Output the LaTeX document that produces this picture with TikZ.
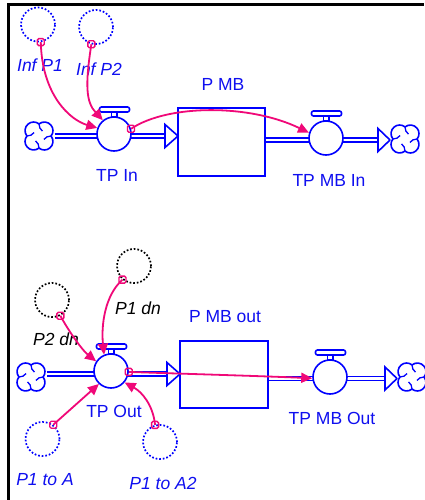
\documentclass[tikz,border=0pt]{standalone}
\usepackage{fontspec}
\setmainfont{Liberation Sans}
\usetikzlibrary{arrows.meta}
\definecolor{fblue}{RGB}{0,0,255}
\definecolor{tblue}{RGB}{15,15,240}
\definecolor{cpink}{RGB}{240,8,120}
\tikzset{
  flowline/.style={draw=fblue, line width=1.6pt},
  pipe/.style={draw=fblue, line width=1.4pt, double=white, double distance=2.4pt},
  pipehead/.style={draw=fblue, fill=white, line width=1.6pt, line join=miter},
  valve/.style={circle, draw=fblue, fill=white, line width=1.6pt, minimum size=34pt, inner sep=0pt},
  stock/.style={rectangle, draw=fblue, line width=1.6pt, inner sep=0pt},
  aux/.style={circle, draw=fblue, line width=1.7pt, dash pattern=on 1.7pt off 1.9pt, minimum size=34pt, inner sep=0pt},
  auxk/.style={aux, draw=black},
  lab/.style={text=tblue, inner sep=0pt, font=\fontsize{17.5}{20}\selectfont},
  ilab/.style={lab, font=\fontsize{17.5}{20}\selectfont\itshape},
  klab/.style={ilab, text=black},
  conn/.style={draw=cpink, line width=1.8pt, -{Triangle[length=11pt,width=10pt]}},
  pinksq/.style={rectangle, draw=cpink, line width=1.4pt, minimum size=7pt, inner sep=0pt, rounded corners=1.5pt},
  cloudnode/.style={circle, minimum size=31pt, inner sep=0pt},
  cloudsym/.pic={
    \fill[white] (0,0) circle (14.5);
    \foreach \t in {45,135,225,315}
      \draw[flowline] ([shift={(\t:7.6)}]\t-84:8.6) arc[start angle=\t-84, end angle=\t+84, radius=8.6];
    \foreach \t in {0,90,180,270}
      \draw[flowline, line width=1.3pt] (\t:12) to[bend right=25] (\t+35:6);
  }
}
\begin{document}
\begin{tikzpicture}[x=1pt,y=-1pt]
\useasboundingbox (0,0) rectangle (424,500);
\fill[white] (0,0) rectangle (424,500);
% frame
\draw[line width=3pt] (8.7,500) -- (8.7,5) -- (424,5);

% clouds (invisible anchors)
\node[cloudnode] (cl1) at (39,136) {};
\node[cloudnode] (cl2) at (405,139) {};
\node[cloudnode] (cl3) at (31,377) {};
\node[cloudnode] (cl4) at (412,377) {};

% stocks
\node[stock, minimum width=87pt, minimum height=68pt] (pmb) at (221.5,142) {};
\node[stock, minimum width=88pt, minimum height=67pt] (pmbout) at (224,374.5) {};

% pipe arrow bases
\coordinate (a1) at (165,136);
\coordinate (a2) at (378,140);
\coordinate (a3) at (167,374);
\coordinate (a4) at (385,378.5);

% pipes
\draw[pipe] (cl1.east |- a1) -- (a1);
\draw[pipehead] (a1) ++(0,-11.5) -- ++(13,11.5) -- ++(-13,11.5) -- cycle;
\draw[pipe] (pmb.east |- a2) -- (a2);
\draw[pipehead] (a2) ++(0,-11.5) -- ++(12,11.5) -- ++(-12,11.5) -- cycle;
\draw[pipe] (cl3.east |- a3) -- (a3);
\draw[pipehead] (a3) ++(0,-11.5) -- ++(13,11.5) -- ++(-13,11.5) -- cycle;
\draw[pipe] (pmbout.east |- a4) -- (a4);
\draw[pipehead] (a4) ++(0,-11.5) -- ++(12,11.5) -- ++(-12,11.5) -- cycle;

% cloud symbols
\pic at (cl1.center) {cloudsym};
\pic at (cl2.center) {cloudsym};
\pic at (cl3.center) {cloudsym};
\pic at (cl4.center) {cloudsym};

% valves
\node[valve] (tpin) at (114,134) {};
\node[valve] (tpmbin) at (326,138) {};
\node[valve] (tpout) at (111,371) {};
\node[valve] (tpmbout) at (330,377) {};
\foreach \v in {tpin,tpmbin,tpout,tpmbout} {
  \draw[flowline, fill=white, rounded corners=2pt] ([shift={(-14.5,-27)}]\v.center) rectangle ([shift={(15.5,-22)}]\v.center);
  \draw[flowline, fill=white] ([shift={(-2.5,-22)}]\v.center) rectangle ([shift={(3,-17.2)}]\v.center);
}

% auxiliaries
\node[aux] (infp1) at (38,24.5) {};
\node[aux] (infp2) at (96,27) {};
\node[auxk] (p2dn) at (52,300) {};
\node[auxk] (p1dn) at (134,266) {};
\node[aux] (p1a) at (42.5,439) {};
\node[aux] (p1a2) at (160,442) {};

% labels
\node[ilab] (linfp1) at (40,65) {Inf P1};
\node[ilab] (linfp2) at (99,69) {Inf P2};
\node[lab] (lpmb) at (223,84) {P MB};
\node[lab] (ltpin) at (117,175) {TP In};
\node[lab] (ltpmbin) at (329,180) {TP MB In};
\node[klab] (lp2dn) at (56,339) {P2 dn};
\node[klab] (lp1dn) at (138,308) {P1 dn};
\node[lab] (lpmbout) at (225,317) {P MB out};
\node[lab] (ltpout) at (114,411) {TP Out};
\node[lab] (ltpmbout) at (332,418) {TP MB Out};
\node[ilab] (lp1a) at (45,480) {P1 to A};
\node[ilab] (lp1a2) at (163,483) {P1 to A2};

% connector origins
\coordinate (s1) at (infp1.-81);
\coordinate (s2) at (infp2.-105);
\coordinate (s3) at (tpin.17);
\coordinate (s4) at (p2dn.-62);
\coordinate (s5) at (p1dn.-130);
\coordinate (s6) at (p1a.53);
\coordinate (s7) at (p1a2.106);
\coordinate (s8) at (tpout.-3);

% connectors
\draw[conn] (s1) .. controls (42,95) and (70,120) .. (tpin.160);
\draw[conn] (s2) .. controls (85,85) and (86,102) .. (tpin.129);
\draw[conn] (s3) .. controls (168,104) and (250,104) .. (tpmbin.163);
\draw[conn] (s4) .. controls (68,330) and (82,350) .. (tpout.147);
\draw[conn] (s5) .. controls (105,295) and (101,325) .. (tpout.113);
\draw[conn] (s6) -- (tpout.227);
\draw[conn] (s7) .. controls (153,405) and (142,392) .. (tpout.-40);
\draw[conn] (s8) .. controls (190,374) and (260,376) .. (tpmbout.184);

% connector squares
\foreach \s in {s1,s2,s3,s4,s5,s6,s7,s8}
  \node[pinksq] (q\s) at (\s) {};
\end{tikzpicture}
\end{document}
